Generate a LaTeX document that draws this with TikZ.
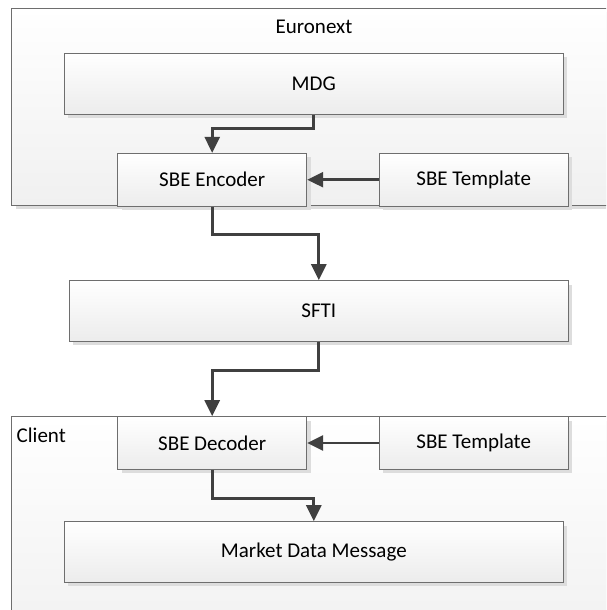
\documentclass[tikz,border=0pt]{standalone}
\usepackage{fontspec}
\setmainfont{Carlito}
\usetikzlibrary{arrows.meta,shadows}
\definecolor{arrowc}{HTML}{404040}
\definecolor{boxline}{HTML}{6E6E6E}
\definecolor{boxbot}{HTML}{ECECEC}
\definecolor{outerbot}{HTML}{F0F0F0}
\definecolor{shadowc}{HTML}{DDDDDD}
\begin{document}
\begin{tikzpicture}[x=1pt,y=-1pt,
  txt/.style={font=\fontsize{21}{25}\selectfont, text=black},
  box/.style={txt, draw=boxline, line width=1pt, top color=white, bottom color=boxbot,
    inner sep=0pt, general shadow={fill=shadowc, shadow xshift=4pt, shadow yshift=-4pt}},
  outerbox/.style={draw=boxline, line width=1pt, top color=white, bottom color=outerbot,
    inner sep=0pt, general shadow={fill=shadowc, shadow xshift=4pt, shadow yshift=-4pt}},
  arr/.style={draw=arrowc, line width=2.7pt, -{Triangle[length=16pt,width=15pt]}}]
\useasboundingbox (0,0) rectangle (606,610);
\clip (0,0) rectangle (606,610);
% Euronext
\node[outerbox, minimum width=658.3pt, minimum height=197pt] (euronext) at (340.85,106.8) {};
\node[txt] (eurolabel) at (314,26.7) {Euronext};
\node[box, minimum width=499pt, minimum height=61pt] (mdg) at (313.8,83.8) {MDG};
\node[box, minimum width=189pt, minimum height=52.7pt] (enc) at (212.2,179.7) {SBE Encoder};
\node[box, minimum width=189.3pt, minimum height=52.7pt] (tpl1) at (473.7,179.7) {SBE Template};
% SFTI
\node[box, minimum width=499pt, minimum height=60.6pt] (sfti) at (318.8,311) {SFTI};
% Client
\node[outerbox, minimum width=658.3pt, minimum height=240pt] (client) at (340.85,536.7) {};
\node[txt, anchor=west, inner sep=0pt] (clientlabel) at (16.5,435) {Client};
\node[box, minimum width=189pt, minimum height=52.6pt] (dec) at (212.2,443) {SBE Decoder};
\node[box, minimum width=189.3pt, minimum height=52.6pt] (tpl2) at (473.7,443) {SBE Template};
\node[box, minimum width=499pt, minimum height=60.6pt] (msg) at (313.8,552) {Market Data Message};
% connectors
\draw[arr] (mdg.south) -- ++(0,14) -| (enc.north);
\draw[arr] (tpl1.west) -- (enc.east);
\draw[arr] (enc.south) -- ++(0,28) -| (sfti.north);
\draw[arr] (sfti.south) -- ++(0,28.7) -| (dec.north);
\draw[arr] (tpl2.west) -- (dec.east);
\draw[arr] (dec.south) -- ++(0,28.4) -| (msg.north);
\end{tikzpicture}
\end{document}
